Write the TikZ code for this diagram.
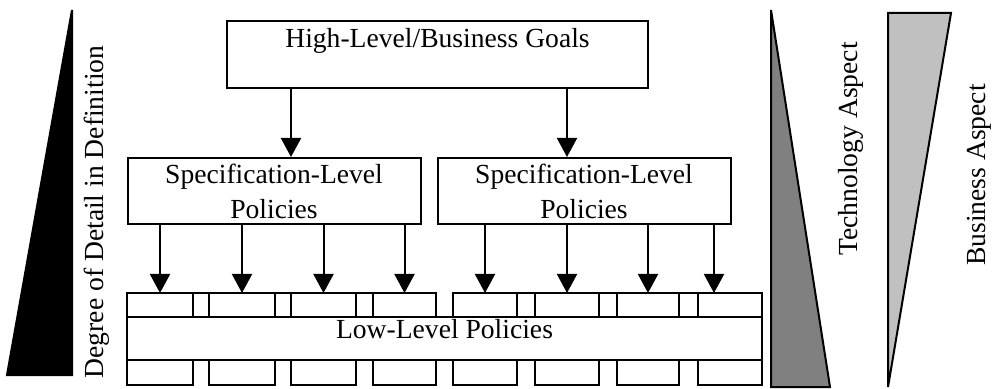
\documentclass[tikz,border=0pt]{standalone}
\usepackage{fontspec}
\setmainfont{Liberation Serif}
\usetikzlibrary{arrows.meta,fit}
\definecolor{techgray}{HTML}{808080}
\definecolor{busgray}{HTML}{C0C0C0}
\begin{document}
\begin{tikzpicture}[
  x=0.5pt, y=-0.5pt,
  every node/.style={font=\fontsize{13.8}{17.5}\selectfont},
  box/.style={draw, line width=1pt, inner sep=0pt},
  spec/.style={box, minimum width=146.5pt, minimum height=33pt, align=center},
  cell/.style={draw, line width=1pt, inner sep=0pt, outer sep=0pt},
  arr/.style={line width=1pt, -{Triangle[width=10pt,length=9.5pt]}},
]
  \useasboundingbox (0,0) rectangle (994,389);

  % wedges at the sides
  \filldraw[line width=1pt] (72,10) -- (7,375) -- (72,375) -- cycle;
  \filldraw[line width=1pt, fill=techgray] (771,10) -- (771,387) -- (830,387) -- cycle;
  \filldraw[line width=1pt, fill=busgray] (888,13) -- (951,13) -- (888,387) -- cycle;
  \node[rotate=90] (detail) at (97,212) {Degree of Detail in Definition};
  \node[rotate=90] (tech) at (851,149) {Technology Aspect};
  \node[rotate=90] (bus) at (979,175) {Business Aspect};

  % goals and specification level
  \node[box, anchor=north, minimum width=210.5pt, text height=13.5pt, text depth=20pt] (goals) at (437.5,20) {High-Level/Business Goals};
  \node[spec, anchor=north] (spec1) at (274,157) {Specification-Level\\Policies};
  \node[spec, anchor=north] (spec2) at (584,157) {Specification-Level\\Policies};

  % low level
  \foreach \i/\l/\r in {1/127/193, 2/209/275, 3/291/356, 4/373/436,
                        5/453/517, 6/535/599, 7/617/679, 8/698/762}
    \node[cell, fit={(\l,293) (\r,385)}] (c\i) {};
  \node[cell, fill=white, text depth=6pt, fit={(127,317) (762,360)}] (low) {Low-Level Policies};
  \foreach \a/\b in {1/2, 2/3, 3/4, 5/6, 6/7, 7/8}
    \draw[line width=1pt] (c\a.north east) rectangle (c\b.west |- low.north);

  % arrows
  \draw[arr] (goals.south -| c3.north west) -- (spec1.north -| c3.north west);
  \draw[arr] (goals.south -| c6.north) -- (spec2.north -| c6.north);
  \foreach \i in {1,...,4}
    \draw[arr] (spec1.south -| c\i.north) -- (c\i.north);
  \foreach \i in {5,6,7}
    \draw[arr] (spec2.south -| c\i.north) -- (c\i.north);
  \coordinate (t8) at ([xshift=-8pt]c8.north);
  \draw[arr] (spec2.south -| t8) -- (t8);
\end{tikzpicture}
\end{document}
